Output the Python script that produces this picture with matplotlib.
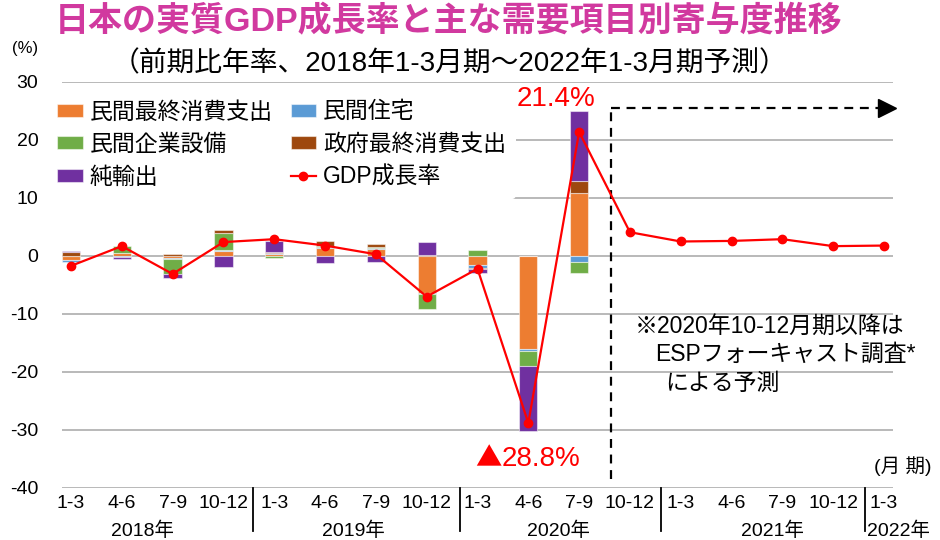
import matplotlib
matplotlib.use('Agg')
import matplotlib.pyplot as plt
import matplotlib.transforms as mtransforms
import numpy as np

plt.rcParams['font.family'] = ['Liberation Sans', 'Noto Sans CJK JP']
plt.rcParams['axes.unicode_minus'] = False

# categories
quarters = ['1-3', '4-6', '7-9', '10-12'] * 4 + ['1-3']
years = ['2018年', '2019年', '2020年', '2021年', '2022年']

# GDP growth (annualized q/q, %), 2018 1-3 .. 2022 1-3
gdp = [-1.7, 1.7, -3.1, 2.4, 2.9, 1.8, 0.3, -7.0, -2.2, -28.8, 21.4,
       4.1, 2.5, 2.6, 2.9, 1.7, 1.8]

# contributions, 2018 1-3 .. 2020 7-9
consumption = [-0.75, 0.5, -0.4, 0.85, 0.3, 1.45, 1.25, -6.3, -1.6, -16.0, 10.8]
housing = [-0.3, -0.1, -0.05, 0.1, 0.2, 0.05, 0.15, -0.3, -0.5, -0.3, -1.0]
capex = [0.0, 1.3, -2.7, 3.05, -0.3, 0.3, 0.2, -2.6, 1.0, -2.6, -2.0]
government = [0.7, -0.15, 0.3, 0.4, 0.2, 0.85, 0.55, 0.1, -0.1, 0.0, 2.1]
net_exports = [0.15, -0.25, -0.6, -1.9, 1.9, -1.15, -1.0, 2.3, -0.75, -11.2, 12.1]

series = [
    ('民間最終消費支出', consumption, '#ED7D31'),
    ('民間住宅', housing, '#5B9BD5'),
    ('民間企業設備', capex, '#70AD47'),
    ('政府最終消費支出', government, '#9E480E'),
    ('純輸出', net_exports, '#7030A0'),
]

fig = plt.figure(figsize=(9.4, 5.4), dpi=100)
ax = fig.add_axes([62 / 940, 1 - 488 / 540, (893 - 62) / 940, (488 - 82) / 540])

n_bar = len(consumption)
x_bar = np.arange(n_bar)
pos_base = np.zeros(n_bar)
neg_base = np.zeros(n_bar)
handles = {}
for name, vals, col in series:
    v = np.array(vals)
    bottom = np.where(v >= 0, pos_base, neg_base)
    h = ax.bar(x_bar, v, 0.36, bottom=bottom, color=col,
               edgecolor=(1, 1, 1, 0.5), linewidth=0.8, zorder=2)
    handles[name] = h
    pos_base = pos_base + np.clip(v, 0, None)
    neg_base = neg_base + np.clip(v, None, 0)

x_all = np.arange(len(gdp))
line, = ax.plot(x_all, gdp, color='#FF0000', lw=1.6, marker='o', ms=6,
                zorder=4, label='GDP成長率')

ax.set_xlim(-0.177, 16.177)
ax.set_ylim(-40, 30)
ax.set_yticks(np.arange(-40, 31, 10))
ax.yaxis.grid(True, color='#ADADAD', lw=1.2)
ax.set_axisbelow(True)
for s in ax.spines.values():
    s.set_visible(False)
ax.tick_params(axis='y', length=0, pad=17, labelsize=14)
ax.set_xticks(x_all)
ax.set_xticklabels(quarters, fontsize=14)
ax.tick_params(axis='x', length=0, pad=5)

# year labels and dividers below the axis
trans = mtransforms.blended_transform_factory(ax.transData, ax.transAxes)
for xd in [3.58, 7.65, 11.62, 15.62]:
    ax.plot([xd, xd], [0, -0.105], color='black', lw=1.3,
            transform=trans, clip_on=False)
for xp, yr in zip([1.4, 5.55, 9.6, 13.8], years[:4]):
    ax.text(xp, -0.106, yr, transform=trans, ha='center', va='center', fontsize=14)
ax.text(15.66, -0.106, years[4], transform=trans, ha='left', va='center', fontsize=14)

# forecast marker: dashed bracket with arrow
ax.plot([10.63, 10.63], [-38.5, 25.5], color='black', lw=1.6, ls=(0, (4, 3)), zorder=3)
ax.plot([10.63, 15.95], [25.5, 25.5], color='black', lw=1.6, ls=(0, (4, 3)), zorder=3)
ax.plot([16.05], [25.5], marker='>', color='black', ms=13, clip_on=False, zorder=3)

# annotations
ax.text(9.55, 27.0, '21.4%', color='#FF0000', fontsize=20, ha='center', va='center',
        zorder=7)
ax.text(8.47, -35.0, '▲', color='#FF0000', fontsize=19, ha='right', va='center',
        family='Noto Sans CJK JP')
ax.text(8.47, -35.0, '28.8%', color='#FF0000', fontsize=20, ha='left', va='center')
ax.text(11.1, -12.1, '※2020年10-12月期以降は', fontsize=16.5, ha='left', va='center')
ax.text(11.5, -16.9, 'ESPフォーキャスト調査*', fontsize=16.5, ha='left', va='center')
ax.text(11.7, -21.9, 'による予測', fontsize=16.5, ha='left', va='center')
ax.text(16.36, -36.3, '(月 期)', fontsize=14, ha='center', va='center')

leg_handles = [handles['民間最終消費支出'], handles['民間企業設備'], handles['純輸出'],
               handles['民間住宅'], handles['政府最終消費支出'], line]
leg_labels = ['民間最終消費支出', '民間企業設備', '純輸出',
              '民間住宅', '政府最終消費支出', 'GDP成長率']
leg = ax.legend(leg_handles, leg_labels, ncol=2, loc='upper left',
                bbox_to_anchor=(-0.018, 0.98), borderaxespad=0, fontsize=16.5,
                frameon=True, facecolor='white', edgecolor='none', framealpha=1,
                handlelength=1.1, handleheight=0.5, handletextpad=0.3,
                columnspacing=0.8, labelspacing=0.42, borderpad=0.45)
leg.set_zorder(5)

fig.text(0.477, 0.959, '日本の実質GDP成長率と主な需要項目別寄与度推移', color='#D1399F',
         fontsize=24.5, fontweight='bold', ha='center', va='center')
fig.text(0.478, 0.881, '（前期比年率、2018年1-3月期～2022年1-3月期予測）',
         fontsize=20, ha='center', va='center')
fig.text(0.027, 0.911, '(%)', fontsize=12, ha='center', va='center')

fig.savefig('out.png', dpi=100)
